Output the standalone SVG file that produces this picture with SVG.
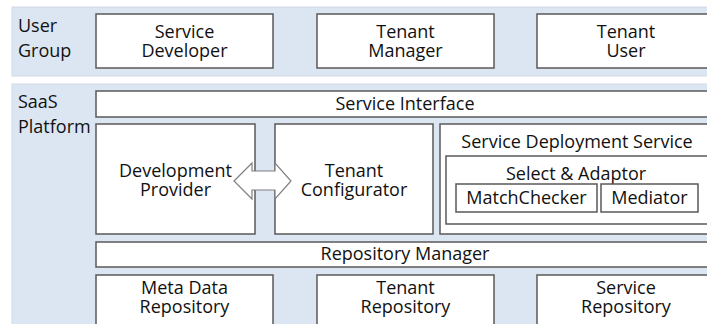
<svg xmlns="http://www.w3.org/2000/svg" width="707" height="324" viewBox="0 0 707 324">
<style>
.panel{fill:#dce6f2;stroke:#cfd9e5;stroke-width:1}
.box{fill:#ffffff;stroke:#595959;stroke-width:1.5}
.t{font-family:"Open Sans","Noto Sans",sans-serif;font-size:18px;fill:#111111}
.c{text-anchor:middle}
.arrow{fill:#ffffff;stroke:#7f7f7f;stroke-width:1.2}
</style>
<rect width="707" height="324" fill="#ffffff"/>
<g id="user-group">
<rect class="panel" x="12" y="7" width="710" height="69"/>
<text class="t" x="18" y="32">User</text>
<text class="t" x="18" y="57">Group</text>
</g>
<g id="saas-platform">
<rect class="panel" x="12" y="84" width="710" height="250"/>
<text class="t" x="18" y="108">SaaS</text>
<text class="t" x="18" y="133">Platform</text>
</g>
<g id="service-developer">
<rect class="box" x="96" y="14" width="177" height="54"/>
<text class="t c" x="184.5" y="38">Service</text>
<text class="t c" x="184.5" y="57">Developer</text>
</g>
<g id="tenant-manager">
<rect class="box" x="317" y="14" width="177" height="54"/>
<text class="t c" x="405.5" y="38">Tenant</text>
<text class="t c" x="405.5" y="57">Manager</text>
</g>
<g id="tenant-user">
<rect class="box" x="537" y="14" width="180" height="54"/>
<text class="t c" x="626" y="38">Tenant</text>
<text class="t c" x="626" y="57">User</text>
</g>
<g id="service-interface">
<rect class="box" x="96" y="91" width="620" height="26"/>
<text class="t c" x="405" y="110">Service Interface</text>
</g>
<g id="development-provider">
<rect class="box" x="96" y="124" width="159" height="110"/>
<text class="t c" x="175.5" y="177">Development</text>
<text class="t c" x="175.5" y="196">Provider</text>
</g>
<g id="tenant-configurator">
<rect class="box" x="275" y="124" width="158" height="110"/>
<text class="t c" x="354" y="177">Tenant</text>
<text class="t c" x="354" y="196">Configurator</text>
</g>
<g id="service-deployment-service">
<rect class="box" x="440" y="124" width="276" height="110"/>
<text class="t c" x="577" y="148">Service Deployment Service</text>
</g>
<g id="select-adaptor">
<rect class="box" x="446" y="156" width="270" height="68"/>
<text class="t c" x="576" y="180">Select &amp; Adaptor</text>
</g>
<g id="matchchecker">
<rect class="box" x="456" y="184" width="141" height="28"/>
<text class="t c" x="526.5" y="204">MatchChecker</text>
</g>
<g id="mediator">
<rect class="box" x="601" y="184" width="97" height="28"/>
<text class="t c" x="649.5" y="204">Mediator</text>
</g>
<g id="repository-manager">
<rect class="box" x="96" y="242" width="620" height="25"/>
<text class="t c" x="405" y="260">Repository Manager</text>
</g>
<g id="meta-data-repository">
<rect class="box" x="96" y="275" width="177" height="60"/>
<text class="t c" x="184.5" y="294">Meta Data</text>
<text class="t c" x="184.5" y="313">Repository</text>
</g>
<g id="tenant-repository">
<rect class="box" x="317" y="275" width="177" height="60"/>
<text class="t c" x="405.5" y="294">Tenant</text>
<text class="t c" x="405.5" y="313">Repository</text>
</g>
<g id="service-repository">
<rect class="box" x="537" y="275" width="180" height="60"/>
<text class="t c" x="626" y="294">Service</text>
<text class="t c" x="626" y="313">Repository</text>
</g>
<g id="connectors">
<polygon class="arrow" points="234,181 252,163 252,171 275,171 275,163 291,181 275,199 275,190 252,190 252,199"/>
</g>
</svg>
